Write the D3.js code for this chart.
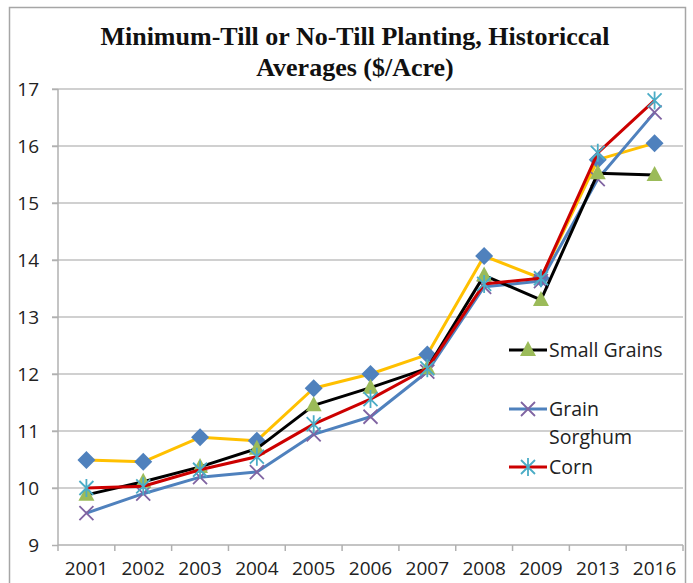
<!DOCTYPE html>
<html>
<head>
<meta charset="utf-8">
<script src="https://cdn.jsdelivr.net/npm/d3@7"></script>
<style>
  body { margin: 0; background: #fff; }
  svg { display: block; }
</style>
</head>
<body>
<div id="chart"></div>
<script>

var years = ["2001","2002","2003","2004","2005","2006","2007","2008","2009","2013","2016"];

var smallGrains = [9.88, 10.11, 10.37, 10.69, 11.45, 11.76, 12.1, 13.73, 13.3, 15.52, 15.49];
var grainSorghum = [9.56, 9.9, 10.19, 10.28, 10.94, 11.25, 12.04, 13.53, 13.63, 15.42, 16.59];
var corn = [10.0, 10.03, 10.32, 10.55, 11.12, 11.56, 12.1, 13.58, 13.68, 15.88, 16.8];
var otherAvg = [10.49, 10.46, 10.89, 10.83, 11.75, 12.0, 12.34, 14.07, 13.68, 15.76, 16.05];

var yTicks = [9, 10, 11, 12, 13, 14, 15, 16, 17];

var width = 693, height = 583;
var margin = {top: 89, right: 10, bottom: 38, left: 58};
var plotW = 683 - margin.left,
    plotH = 545 - margin.top;

var svg = d3.select("#chart").append("svg")
  .attr("width", width)
  .attr("height", height);

// outer chart border
svg.append("rect")
  .attr("x", 9.5).attr("y", 7.5)
  .attr("width", 676).attr("height", 600)
  .attr("fill", "none")
  .attr("stroke", "#a6a6a6")
  .attr("stroke-width", 1.5);

var title = svg.append("text")
  .attr("text-anchor", "middle")
  .style("font-family", "'Liberation Serif', 'Times New Roman', serif")
  .style("font-weight", "bold")
  .style("font-size", "26px")
  .attr("fill", "#111");
title.append("tspan").attr("x", 355).attr("y", 45).text("Minimum-Till or No-Till Planting, Historiccal");
title.append("tspan").attr("x", 355).attr("y", 76).text("Averages ($/Acre)");

var x = d3.scaleBand()
  .domain(years)
  .range([0, plotW]);

var y = d3.scaleLinear()
  .domain([9, 17])
  .range([plotH, 0]);

var g = svg.append("g")
  .attr("transform", `translate(${margin.left},${margin.top})`);

// gridlines
g.append("g")
  .selectAll("line")
  .data(yTicks.slice(1))
  .enter().append("line")
  .attr("x1", -6).attr("x2", plotW)
  .attr("y1", d => y(d)).attr("y2", d => y(d))
  .attr("stroke", "#c0c0c0")
  .attr("stroke-width", 1.5);

var yAxis = d3.axisLeft(y)
  .tickValues(yTicks)
  .tickSize(6)
  .tickPadding(13)
  .tickFormat(d3.format("d"));

var xAxis = d3.axisBottom(x)
  .tickSize(0)
  .tickPadding(17);

var yAxisG = g.append("g").attr("class", "y-axis").call(yAxis);
var xAxisG = g.append("g").attr("class", "x-axis")
  .attr("transform", `translate(0,${plotH})`)
  .call(xAxis);

// category separator ticks on the x axis
xAxisG.append("g")
  .selectAll("line")
  .data(years.concat(["end"]))
  .enter().append("line")
  .attr("x1", (d, i) => i * x.bandwidth())
  .attr("x2", (d, i) => i * x.bandwidth())
  .attr("y1", 0).attr("y2", 6)
  .attr("stroke", "#b0b0b0")
  .attr("stroke-width", 1.5);

svg.selectAll(".domain")
  .attr("stroke", "#b0b0b0")
  .attr("stroke-width", 1.5);
yAxisG.selectAll(".tick line").attr("stroke", "#b0b0b0").attr("stroke-width", 1.5);
svg.selectAll(".tick text")
  .style("font-family", "'Open Sans', sans-serif")
  .style("font-size", "19px")
  .attr("fill", "#222");
yAxisG.select(".domain").attr("d", `M0,${plotH}V0`);
xAxisG.select(".domain").attr("d", `M0,0H${plotW}`);

var series = [
  {name: "Other", values: otherAvg, line: "#FFC000", mark: "diamond", markColor: "#4F81BD"},
  {name: "Grain Sorghum", values: grainSorghum, line: "#4F81BD", mark: "x", markColor: "#8064A2"},
  {name: "Small Grains", values: smallGrains, line: "#000000", mark: "triangle", markColor: "#9BBB59"},
  {name: "Corn", values: corn, line: "#CC0000", mark: "star", markColor: "#4BACC6"}
];

var lineGen = d3.line()
  .x((d, i) => x(years[i]) + x.bandwidth() / 2)
  .y(d => y(d));

function drawMarker(sel, type, color) {
  if (type === "diamond") {
    sel.append("path").attr("d", "M0,-9L9,0L0,9L-9,0Z").attr("fill", color);
  } else if (type === "triangle") {
    sel.append("path").attr("d", "M0,-9L8,6L-8,6Z").attr("fill", color);
  } else if (type === "x") {
    sel.append("path").attr("d", "M-7,-7L7,7M-7,7L7,-7")
      .attr("stroke", color).attr("stroke-width", 1.8).attr("fill", "none");
  } else if (type === "star") {
    sel.append("path").attr("d", "M-7,-7L7,7M-7,7L7,-7M0,-9V9")
      .attr("stroke", color).attr("stroke-width", 1.8).attr("fill", "none");
  }
}

var seriesG = g.selectAll(".series")
  .data(series)
  .enter().append("g")
  .attr("class", "series");

seriesG.append("path")
  .attr("d", d => lineGen(d.values))
  .attr("fill", "none")
  .attr("stroke", d => d.line)
  .attr("stroke-width", 3)
  .attr("stroke-linejoin", "round");

seriesG.each(function(s) {
  var grp = d3.select(this);
  s.values.forEach(function(v, i) {
    var m = grp.append("g")
      .attr("transform", `translate(${x(years[i]) + x.bandwidth() / 2},${y(v)})`);
    drawMarker(m, s.mark, s.markColor);
  });
});

// legend
var legendItems = [
  {label: ["Small Grains"], s: series[2], yPos: 350},
  {label: ["Grain", "Sorghum"], s: series[1], yPos: 409},
  {label: ["Corn"], s: series[3], yPos: 467}
];

var legend = svg.append("g").attr("class", "legend");
legendItems.forEach(function(item) {
  var lg = legend.append("g").attr("transform", `translate(509,${item.yPos})`);
  lg.append("line")
    .attr("x1", 0).attr("x2", 38)
    .attr("stroke", item.s.line)
    .attr("stroke-width", 3);
  drawMarker(lg.append("g").attr("transform", "translate(19,0)"), item.s.mark, item.s.markColor);
  var t = lg.append("text")
    .style("font-family", "'Open Sans', sans-serif")
    .style("font-size", "19.5px")
    .attr("fill", "#222");
  item.label.forEach(function(l, i) {
    t.append("tspan").attr("x", 40).attr("y", 7 + i * 28).text(l);
  });
});

</script>
</body>
</html>
